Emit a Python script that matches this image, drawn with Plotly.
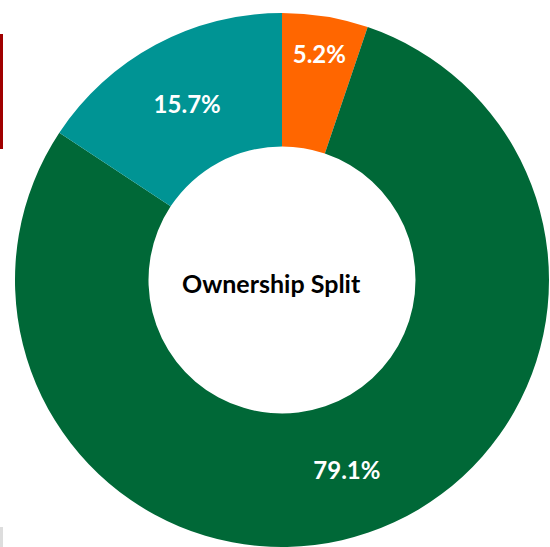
"""Ownership split donut chart."""
import plotly.graph_objects as go

# data
labels = ["Segment A", "Segment B", "Segment C"]
shares = [5.2, 79.1, 15.7]
text_labels = ["5.2%", "79.1%", "15.7%"]
colors = ["#FF6600", "#006837", "#009494"]
center_title = "Ownership Split"

W, H = 550, 547
cx, cy, r = 282, 280, 267

fig = go.Figure()
fig.add_trace(go.Pie(
    labels=labels,
    values=shares,
    text=text_labels,
    textinfo="text",
    textposition="inside",
    insidetextorientation="horizontal",
    textfont=dict(family="Lato", size=24, color="white", weight="bold"),
    marker=dict(colors=colors, line=dict(width=0)),
    hole=0.5,
    sort=False,
    direction="clockwise",
    rotation=0,
    showlegend=False,
    hoverinfo="label+percent",
    domain=dict(x=[(cx - r) / W, (cx + r) / W],
                y=[(H - cy - r) / H, (H - cy + r) / H]),
))

# title in the hole, sits a little left of centre in the source
fig.add_annotation(
    text="<b>" + center_title + "</b>",
    x=271 / W, y=1 - 283 / H, xref="paper", yref="paper",
    showarrow=False,
    font=dict(family="Lato", size=25, color="black"),
)

# small edge marks seen in the source
fig.add_shape(type="rect", xref="paper", yref="paper",
              x0=0, x1=3 / W, y0=1 - 149 / H, y1=1 - 34 / H,
              fillcolor="#A00000", line=dict(width=0))
fig.add_shape(type="rect", xref="paper", yref="paper",
              x0=0, x1=3 / W, y0=0, y1=1 - 527 / H,
              fillcolor="#DDDDDD", line=dict(width=0))

fig.update_layout(
    width=W, height=H,
    margin=dict(l=0, r=0, t=0, b=0),
    paper_bgcolor="white",
    plot_bgcolor="white",
)

fig.write_html("out.html", config={"displayModeBar": False},
               post_script="document.body.style.margin='0';")
